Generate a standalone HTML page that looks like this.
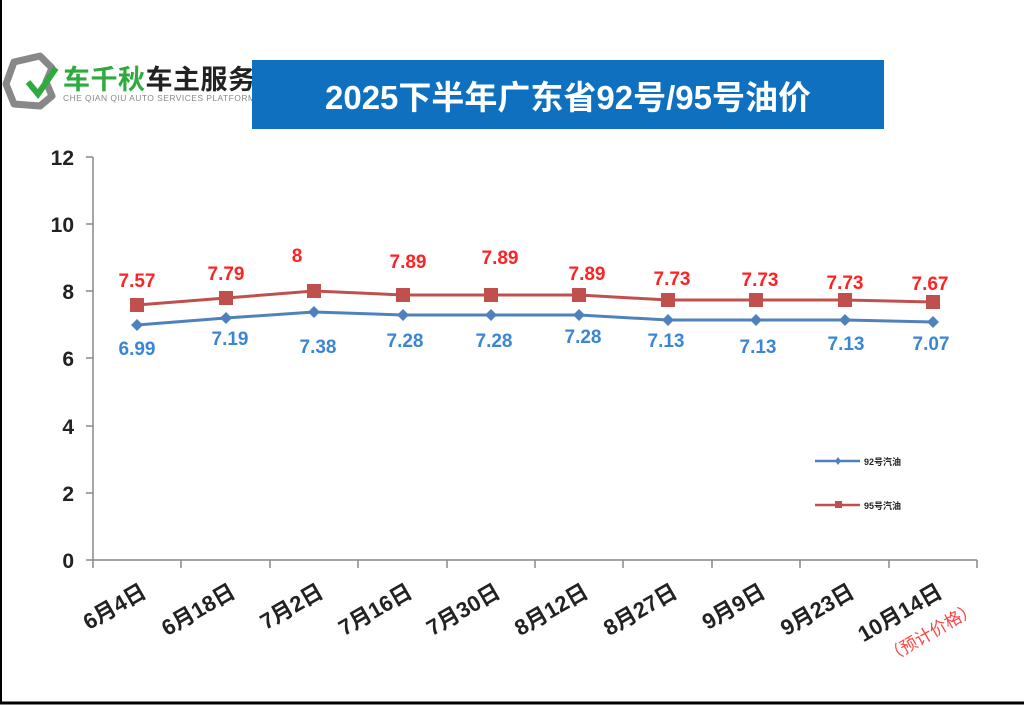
<!DOCTYPE html>
<html><head><meta charset="utf-8"><style>
body{margin:0;background:#fff;}
svg{display:block;font-family:"Liberation Sans","Noto Sans CJK SC",sans-serif;}
</style></head><body>
<svg width="1024" height="706" viewBox="0 0 1024 706">
<rect x="0" y="0" width="1024" height="706" fill="#fff"/>
<line x1="1" y1="0" x2="1" y2="704" stroke="#000" stroke-width="2"/>
<line x1="0" y1="703" x2="1024" y2="703" stroke="#000" stroke-width="3"/>
<!-- logo -->
<path d="M14 62 L40 56 L52 68 L46 82 L52 96 L40 106 L14 104 L6 84 Z" fill="none" stroke="#888" stroke-width="7" stroke-linejoin="round"/>
<path d="M28 82 L38 94 L56 68" fill="none" stroke="#2eaa3e" stroke-width="6"/>
<text x="63" y="89" font-size="27" font-weight="bold" fill="#2eaa3e" textLength="192">车千秋<tspan fill="#222">车主服务</tspan></text>
<text x="63" y="101" font-size="8.5" fill="#888" textLength="192">CHE QIAN QIU AUTO SERVICES PLATFORM</text>
<!-- title -->
<rect x="252" y="60" width="632" height="69" fill="#0f70c0"/>
<text x="568" y="109" font-size="33" font-weight="bold" fill="#fff" text-anchor="middle">2025下半年广东省92号/95号油价</text>
<!-- axes -->
<g stroke="#888" stroke-width="1.5" fill="none">
<line x1="93" y1="157" x2="93" y2="560"/>
<line x1="93" y1="560" x2="977" y2="560"/>
<line x1="86" y1="157" x2="93" y2="157"/><line x1="86" y1="224" x2="93" y2="224"/><line x1="86" y1="291" x2="93" y2="291"/><line x1="86" y1="358" x2="93" y2="358"/><line x1="86" y1="426" x2="93" y2="426"/><line x1="86" y1="493" x2="93" y2="493"/><line x1="86" y1="560" x2="93" y2="560"/>
<line x1="93" y1="560" x2="93" y2="568"/><line x1="181" y1="560" x2="181" y2="568"/><line x1="270" y1="560" x2="270" y2="568"/><line x1="358" y1="560" x2="358" y2="568"/><line x1="447" y1="560" x2="447" y2="568"/><line x1="535" y1="560" x2="535" y2="568"/><line x1="623" y1="560" x2="623" y2="568"/><line x1="712" y1="560" x2="712" y2="568"/><line x1="800" y1="560" x2="800" y2="568"/><line x1="889" y1="560" x2="889" y2="568"/><line x1="977" y1="560" x2="977" y2="568"/>
</g>
<g font-size="21" font-weight="bold" fill="#222" text-anchor="end">
<text x="74" y="165">12</text><text x="74" y="232">10</text><text x="74" y="299">8</text><text x="74" y="366">6</text><text x="74" y="434">4</text><text x="74" y="501">2</text><text x="74" y="568">0</text>
</g>
<!-- series -->
<polyline points="137,325 226,318 314,312 403,315 491,315 579,315 668,320 756,320 845,320 933,322" fill="none" stroke="#4f81bd" stroke-width="3"/>
<polyline points="137,305 226,298 314,291 403,295 491,295 579,295 668,300 756,300 845,300 933,302" fill="none" stroke="#c0504d" stroke-width="3"/>
<g fill="#4f81bd">
<path d="M137 319 l6 6 -6 6 -6 -6z"/><path d="M226 312 l6 6 -6 6 -6 -6z"/><path d="M314 306 l6 6 -6 6 -6 -6z"/><path d="M403 309 l6 6 -6 6 -6 -6z"/><path d="M491 309 l6 6 -6 6 -6 -6z"/><path d="M579 309 l6 6 -6 6 -6 -6z"/><path d="M668 314 l6 6 -6 6 -6 -6z"/><path d="M756 314 l6 6 -6 6 -6 -6z"/><path d="M845 314 l6 6 -6 6 -6 -6z"/><path d="M933 316 l6 6 -6 6 -6 -6z"/>
</g>
<g fill="#c0504d">
<rect x="130" y="298" width="14" height="14"/><rect x="219" y="291" width="14" height="14"/><rect x="307" y="284" width="14" height="14"/><rect x="396" y="288" width="14" height="14"/><rect x="484" y="288" width="14" height="14"/><rect x="572" y="288" width="14" height="14"/><rect x="661" y="293" width="14" height="14"/><rect x="749" y="293" width="14" height="14"/><rect x="838" y="293" width="14" height="14"/><rect x="926" y="295" width="14" height="14"/>
</g>
<g font-size="19" font-weight="bold" fill="#f22" text-anchor="middle">
<text x="137" y="287">7.57</text><text x="226" y="280">7.79</text><text x="297" y="262">8</text><text x="408" y="268">7.89</text><text x="500" y="264">7.89</text><text x="587" y="280">7.89</text><text x="672" y="285">7.73</text><text x="760" y="286">7.73</text><text x="845" y="289">7.73</text><text x="930" y="290">7.67</text>
</g>
<g font-size="19" font-weight="bold" fill="#3a86d6" text-anchor="middle">
<text x="137" y="355">6.99</text><text x="230" y="345">7.19</text><text x="318" y="353">7.38</text><text x="405" y="347">7.28</text><text x="494" y="347">7.28</text><text x="583" y="343">7.28</text><text x="666" y="347">7.13</text><text x="758" y="353">7.13</text><text x="846" y="350">7.13</text><text x="931" y="350">7.07</text>
</g>
<!-- legend -->
<line x1="815" y1="461" x2="860" y2="461" stroke="#4f81bd" stroke-width="2.5"/><path d="M838 457 l3 4 -3 4 -3 -4z" fill="#4f81bd"/>
<text x="864" y="465" font-size="9" font-weight="bold" fill="#222">92号汽油</text>
<line x1="815" y1="505" x2="860" y2="505" stroke="#c0504d" stroke-width="2.5"/><rect x="835" y="501" width="7" height="7" fill="#c0504d"/>
<text x="864" y="509" font-size="9" font-weight="bold" fill="#222">95号汽油</text>
<!-- x labels -->
<g font-size="22" font-weight="bold" fill="#222" text-anchor="end">
<text transform="translate(148,596) rotate(-30)">6月4日</text>
<text transform="translate(237,596) rotate(-30)">6月18日</text>
<text transform="translate(325,596) rotate(-30)">7月2日</text>
<text transform="translate(414,596) rotate(-30)">7月16日</text>
<text transform="translate(502,596) rotate(-30)">7月30日</text>
<text transform="translate(590,596) rotate(-30)">8月12日</text>
<text transform="translate(679,596) rotate(-30)">8月27日</text>
<text transform="translate(767,596) rotate(-30)">9月9日</text>
<text transform="translate(856,596) rotate(-30)">9月23日</text>
<text transform="translate(944,596) rotate(-30)">10月14日</text>
</g>
<text transform="translate(978,612) rotate(-30)" font-size="17" fill="#f44" text-anchor="end">（预计价格）</text>
</svg>
</body></html>
